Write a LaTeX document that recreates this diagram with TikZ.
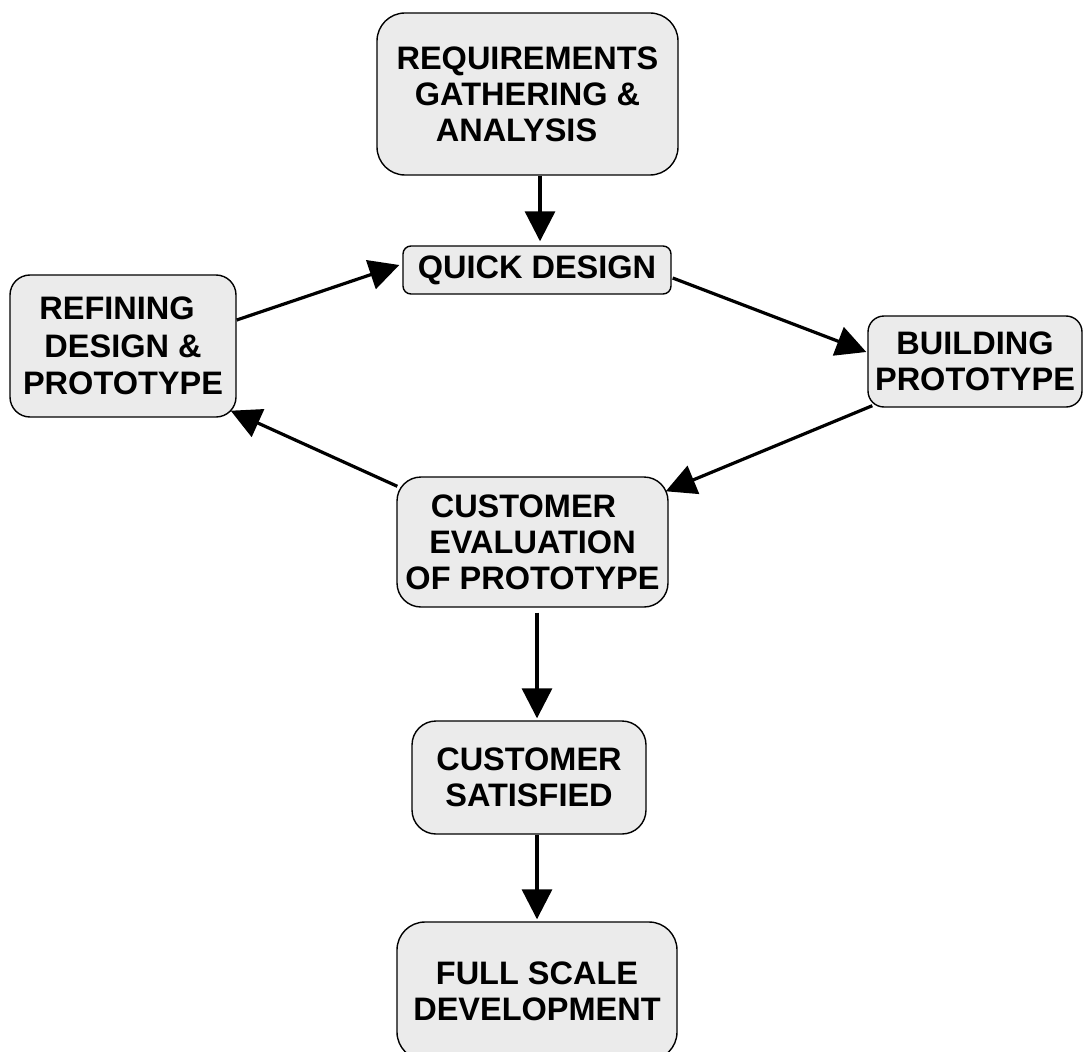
\documentclass[tikz,border=0pt]{standalone}
\usepackage{fontspec}
\setmainfont{Liberation Sans}
\usetikzlibrary{arrows.meta}
\definecolor{boxfill}{RGB}{235,235,235}
\begin{document}
\begin{tikzpicture}[x=1pt,y=-1pt,
  stage/.style={draw=black, line width=1.4pt, fill=boxfill, align=center,
    inner sep=0pt, font=\fontsize{32.5}{36}\selectfont\bfseries},
  flow/.style={line width=3.2pt, -{Triangle[length=30pt,width=30pt]}}]
\useasboundingbox (0,0) rectangle (1083,1051);

% process stages
\node[stage, rounded corners=28pt, minimum width=301pt, minimum height=162pt]
  (req) at (527.5,94) {REQUIREMENTS\\GATHERING \&\\ANALYSIS\hspace*{22pt}};
\node[stage, rounded corners=8pt, minimum width=268pt, minimum height=48pt]
  (quick) at (537,270) {QUICK DESIGN};
\node[stage, rounded corners=20pt, minimum width=226pt, minimum height=142pt,
  font=\fontsize{32.5}{37.5}\selectfont\bfseries]
  (ref) at (123,346) {REFINING\hspace*{12pt}\\DESIGN \&\\PROTOTYPE};
\node[stage, rounded corners=16pt, minimum width=214pt, minimum height=91pt]
  (build) at (975,361.5) {BUILDING\\PROTOTYPE};
\node[stage, rounded corners=24pt, minimum width=271pt, minimum height=130pt]
  (eval) at (532.5,542) {CUSTOMER\hspace*{18pt}\\EVALUATION\\OF PROTOTYPE};
\node[stage, rounded corners=24pt, minimum width=234pt, minimum height=113pt]
  (sat) at (529,777.5) {CUSTOMER\\SATISFIED};
\node[stage, rounded corners=28pt, minimum width=280pt, minimum height=138pt]
  (full) at (537,991) {FULL SCALE\\DEVELOPMENT};

% connectors
\draw[flow, shorten >=4pt] ([xshift=12.5pt]req.south) -- ([xshift=3pt]quick.north);
\draw[flow] ([yshift=26pt]ref.east) -- ([xshift=-3pt,yshift=5pt]quick.west);
\draw[flow] ([xshift=1pt,yshift=-8pt]quick.east) -- ([xshift=-1pt,yshift=9.5pt]build.west);
\draw[flow] ([xshift=5pt,yshift=2pt]build.south west) -- ([xshift=-3pt,yshift=-15pt]eval.north east);
\draw[flow] ([xshift=1pt,yshift=-10pt]eval.north west) -- ([xshift=-6pt,yshift=7pt]ref.south east);
\draw[flow, shorten <=5pt, shorten >=2pt] ([xshift=4.5pt]eval.south) -- ([xshift=8pt]sat.north);
\draw[flow, shorten >=2pt] ([xshift=8pt]sat.south) -- (full.north);
\end{tikzpicture}
\end{document}
